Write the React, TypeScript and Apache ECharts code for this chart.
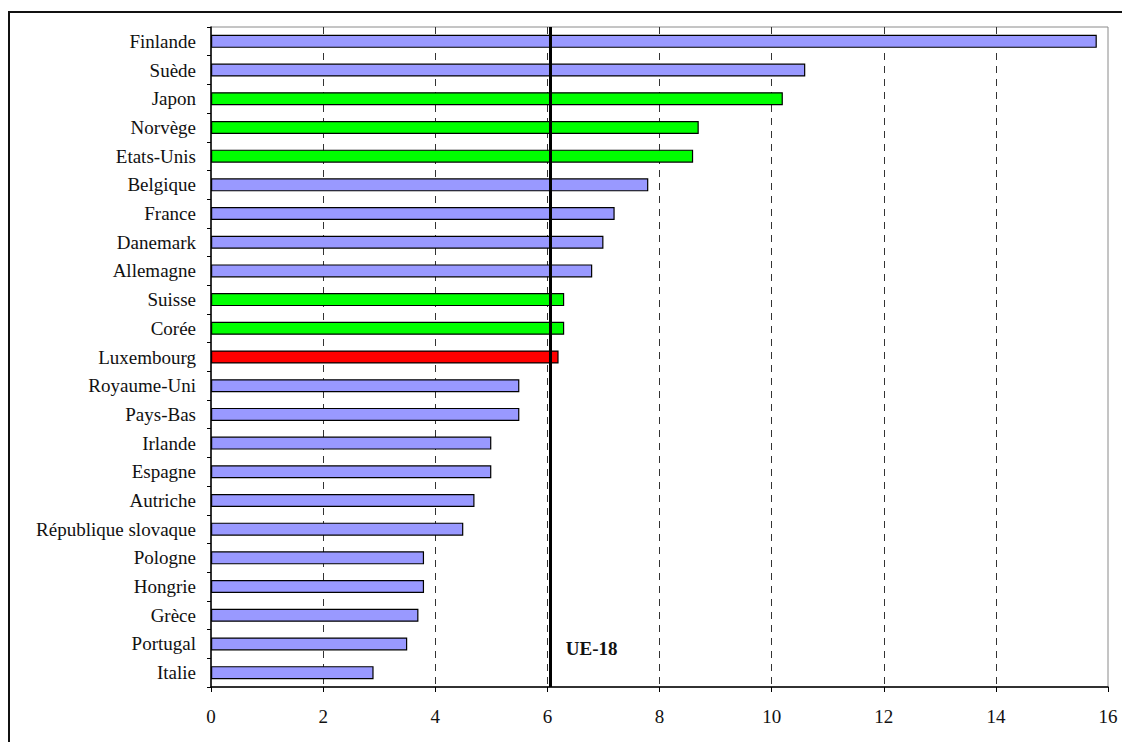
import React, { useEffect, useRef } from "react";
import * as echarts from "echarts";

const categories = [
  "Finlande", "Suède", "Japon", "Norvège", "Etats-Unis", "Belgique", "France",
  "Danemark", "Allemagne", "Suisse", "Corée", "Luxembourg", "Royaume-Uni",
  "Pays-Bas", "Irlande", "Espagne", "Autriche", "République slovaque",
  "Pologne", "Hongrie", "Grèce", "Portugal", "Italie",
];
const values = [
  15.8, 10.6, 10.2, 8.7, 8.6, 7.8, 7.2, 7.0, 6.8, 6.3, 6.3, 6.2, 5.5, 5.5,
  5.0, 5.0, 4.7, 4.5, 3.8, 3.8, 3.7, 3.5, 2.9,
];
const groups = [
  "ue", "ue", "hors", "hors", "hors", "ue", "ue", "ue", "ue", "hors", "hors",
  "lux", "ue", "ue", "ue", "ue", "ue", "ue", "ue", "ue", "ue", "ue", "ue",
];
const groupColors: Record<string, string> = { ue: "#9999FF", hors: "#00FF00", lux: "#FF0000" };
const ueAverage = 6.06;
const ueLabel = "UE-18";
const xTicks = { min: 0, max: 16, interval: 2 };

const FONT = "Liberation Serif";

export default function App() {
  const ref = useRef<HTMLDivElement>(null);
  useEffect(() => {
    if (!ref.current) return;
    const chart = echarts.init(ref.current, null, { renderer: "svg" });
    chart.setOption({
      animation: false,
      backgroundColor: "#fff",
      textStyle: { fontFamily: FONT },
      grid: {
        left: 211,
        top: 27,
        right: 14,
        bottom: 55,
        show: true,
        borderColor: "#8a8a8a",
        borderWidth: 1,
        containLabel: false,
      },
      xAxis: {
        type: "value",
        min: xTicks.min,
        max: xTicks.max,
        interval: xTicks.interval,
        axisLine: { show: true, lineStyle: { color: "#000", width: 1.5 } },
        axisTick: { show: true, length: 5, lineStyle: { color: "#000" } },
        axisLabel: { fontSize: 19, color: "#111", margin: 20, fontFamily: FONT },
        splitLine: {
          show: true,
          showMinLine: false,
          showMaxLine: false,
          lineStyle: { color: "#333", type: [7, 6], width: 1 },
        },
      },
      yAxis: {
        type: "category",
        data: categories,
        inverse: true,
        axisLine: { show: true, lineStyle: { color: "#000", width: 1.5 } },
        axisTick: { show: true, length: 4, lineStyle: { color: "#000" } },
        axisLabel: { fontSize: 19, color: "#111", margin: 15, interval: 0, fontFamily: FONT },
        splitLine: { show: false },
      },
      series: [
        {
          type: "bar",
          barWidth: 13,
          data: values.map((v, i) => ({
            value: v,
            itemStyle: { color: groupColors[groups[i]], borderColor: "#000", borderWidth: 1.2 },
          })),
          markLine: {
            silent: true,
            symbol: ["none", "none"],
            label: { show: false },
            lineStyle: { color: "#000", width: 3, type: "solid" },
            data: [{ xAxis: ueAverage }],
          },
          markPoint: {
            silent: true,
            symbol: "circle",
            symbolSize: 0,
            data: [{ coord: [ueAverage, "Portugal"] }],
            label: {
              show: true,
              formatter: ueLabel,
              position: "right",
              distance: 0,
              offset: [15, 5],
              fontSize: 19,
              fontWeight: "bold",
              color: "#111",
              fontFamily: FONT,
            },
          },
        },
      ],
      graphic: [
        {
          type: "rect",
          silent: true,
          shape: { x: 9, y: 12, width: 1200, height: 800 },
          style: { fill: "none", stroke: "#111", lineWidth: 2 },
        },
      ],
    });
    return () => chart.dispose();
  }, []);
  return (
    <div
      ref={ref}
      style={{ position: "absolute", left: 0, top: 0, width: 1122, height: 742 }}
    />
  );
}
